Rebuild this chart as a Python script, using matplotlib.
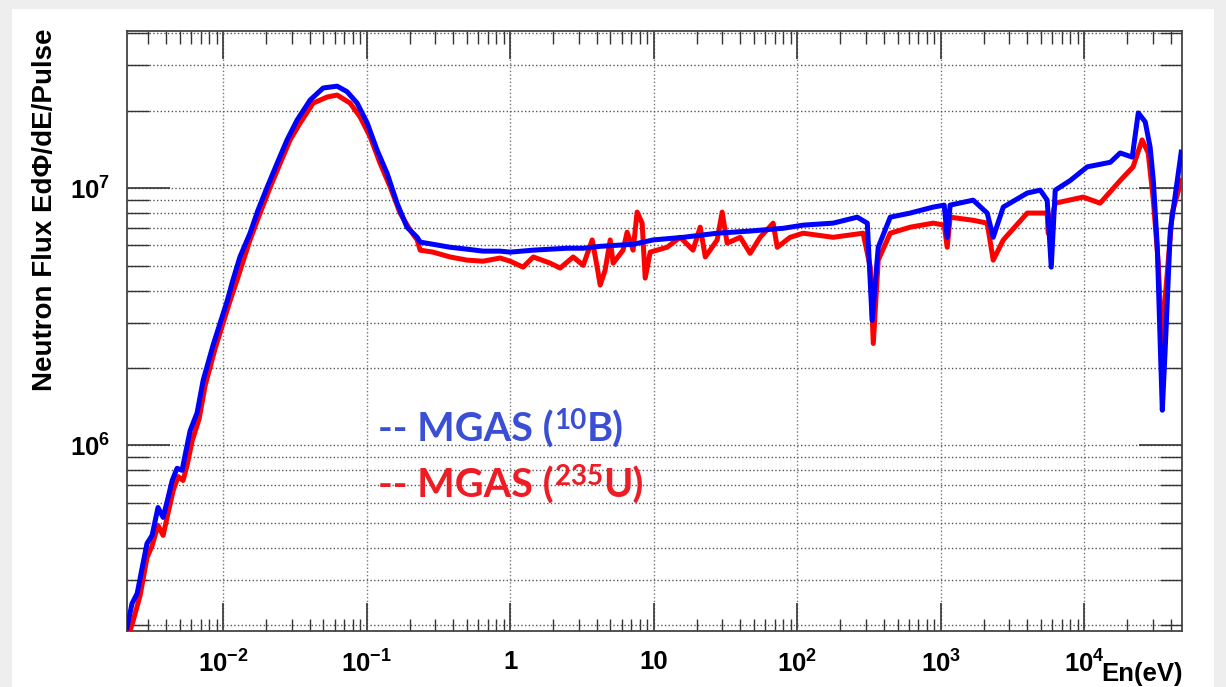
import numpy as np
import matplotlib.pyplot as plt
from matplotlib.ticker import FixedLocator, NullFormatter

plt.rcParams['font.family'] = ['Liberation Sans', 'DejaVu Sans']
plt.rcParams['mathtext.fontset'] = 'custom'
plt.rcParams['mathtext.rm'] = 'Liberation Sans:bold'
plt.rcParams['mathtext.bf'] = 'Liberation Sans:bold'
plt.rcParams['mathtext.it'] = 'Liberation Sans:bold'

# MGAS (10B) - energy (eV) and flux
e_b10 = [2.14e-3, 2.32e-3, 2.52e-3, 2.73e-3, 2.95e-3, 3.20e-3, 3.52e-3, 3.82e-3,
         4.14e-3, 4.42e-3, 4.78e-3, 5.18e-3, 5.43e-3, 5.89e-3, 6.59e-3, 7.26e-3,
         8.51e-3, 1.07e-2, 1.17e-2, 1.31e-2, 1.54e-2, 1.75e-2, 2.03e-2, 2.38e-2,
         2.79e-2, 3.28e-2, 4.04e-2, 4.98e-2, 6.23e-2, 7.31e-2, 8.59e-2, 0.101,
         0.118, 0.139, 0.163, 0.191, 0.225, 0.236, 0.290, 0.382, 0.501, 0.648,
         0.851, 1.0, 1.45, 1.90, 2.50, 3.23, 4.24, 7.19, 9.93, 16.1, 27.7, 47.0,
         79.8, 110, 178, 262, 308, 333, 367, 445, 613, 887, 1058, 1110, 1164,
         1683, 2108, 2322, 2729, 4010, 4940, 5520, 5890, 6280, 7980, 1.05e4,
         1.52e4, 1.78e4, 2.16e4, 2.38e4, 2.66e4, 2.88e4, 3.03e4, 3.23e4, 3.39e4,
         3.50e4, 3.67e4, 3.98e4, 4.45e4, 4.74e4]
f_b10 = [1.96e5, 2.43e5, 2.66e5, 3.35e5, 4.16e5, 4.47e5, 5.74e5, 5.25e5,
         6.28e5, 7.31e5, 8.15e5, 8.0e5, 9.14e5, 1.14e6, 1.34e6, 1.79e6,
         2.45e6, 3.66e6, 4.39e6, 5.40e6, 6.68e6, 8.21e6, 1.01e7, 1.25e7,
         1.54e7, 1.84e7, 2.20e7, 2.45e7, 2.49e7, 2.37e7, 2.14e7, 1.79e7,
         1.41e7, 1.14e7, 8.74e6, 7.05e6, 6.44e6, 6.17e6, 6.05e6, 5.89e6, 5.79e6, 5.69e6,
         5.69e6, 5.64e6, 5.74e6, 5.79e6, 5.84e6, 5.84e6, 5.94e6, 6.05e6, 6.29e6, 6.44e6, 6.68e6, 6.81e6,
         6.98e6, 7.18e6, 7.31e6, 7.71e6, 7.31e6, 3.06e6, 5.89e6, 7.71e6, 8.0e6, 8.44e6, 8.59e6, 6.44e6, 8.59e6,
         8.98e6, 8.0e6, 6.44e6, 8.44e6, 9.57e6, 9.82e6, 8.98e6, 4.93e6, 9.82e6, 1.07e7, 1.21e7,
         1.26e7, 1.37e7, 1.32e7, 1.96e7, 1.81e7, 1.44e7, 1.07e7, 5.89e6, 2.40e6,
         1.37e6, 2.40e6, 6.87e6, 1.07e7, 1.38e7]

# MGAS (235U)
e_u235 = [2.25e-3, 2.36e-3, 2.64e-3, 2.95e-3, 3.20e-3, 3.52e-3, 3.82e-3, 4.14e-3,
          4.49e-3, 4.86e-3, 5.26e-3, 5.61e-3, 6.08e-3, 6.81e-3, 7.50e-3, 8.80e-3,
          1.12e-2, 1.25e-2, 1.54e-2, 1.81e-2, 2.13e-2, 2.50e-2, 2.93e-2, 3.44e-2,
          4.24e-2, 5.31e-2, 6.23e-2, 7.67e-2, 9.01e-2, 0.106, 0.124, 0.146, 0.171,
          0.201, 0.225, 0.236, 0.290, 0.382, 0.501, 0.648, 0.851, 1.0, 1.23, 1.45,
          1.90, 2.23, 2.75, 3.23, 3.73, 4.04, 4.24, 4.59, 4.98, 5.22, 6.12, 6.53,
          7.19, 7.67, 8.31, 8.73, 9.46, 12.4, 15.3, 18.8, 21.1, 22.9, 27.7, 30.0,
          32.5, 40.1, 47.0, 55.2, 68.0, 72.6, 89.3, 110, 178, 288, 323, 339, 367,
          445, 613, 887, 1058, 1110, 1164, 1683, 2108, 2322, 2729, 4010, 5520, 5610,
          6280, 9840, 1.29e4, 1.78e4, 2.19e4, 2.53e4, 2.79e4, 3.03e4, 3.28e4,
          3.50e4, 3.67e4, 4.10e4, 4.74e4]
f_u235 = [1.91e5, 2.08e5, 2.61e5, 3.66e5, 4.08e5, 4.89e5, 4.47e5, 5.48e5,
          6.68e5, 7.57e5, 7.31e5, 8.36e5, 1.04e6, 1.27e6, 1.71e6, 2.38e6,
          3.66e6, 4.39e6, 6.29e6, 8.0e6, 1.01e7, 1.25e7, 1.54e7, 1.79e7,
          2.14e7, 2.26e7, 2.30e7, 2.14e7, 1.89e7, 1.58e7, 1.25e7, 1.01e7, 8.0e6,
          6.87e6, 6.29e6, 5.74e6, 5.64e6, 5.40e6, 5.25e6, 5.20e6, 5.35e6, 5.20e6, 4.93e6, 5.40e6,
          5.11e6, 4.89e6, 5.40e6, 5.01e6, 6.29e6, 4.93e6, 4.20e6, 4.80e6, 6.29e6, 5.11e6, 5.74e6, 6.74e6,
          5.74e6, 8.07e6, 7.31e6, 4.47e6, 5.64e6, 5.89e6, 6.44e6, 5.74e6, 7.05e6, 5.40e6, 6.29e6, 8.07e6,
          6.11e6, 6.44e6, 5.58e6, 6.44e6, 7.31e6, 5.89e6, 6.44e6, 6.68e6, 6.44e6, 6.68e6, 4.93e6, 2.49e6, 5.25e6,
          6.68e6, 7.05e6, 7.31e6, 7.18e6, 5.89e6, 7.71e6, 7.50e6, 7.31e6, 5.25e6, 6.29e6, 8.0e6, 8.0e6, 6.68e6,
          8.74e6, 9.23e6, 8.74e6, 1.07e7, 1.21e7, 1.54e7, 1.37e7, 8.98e6, 5.11e6,
          2.28e6, 3.77e6, 8.0e6, 1.07e7]

x_ticks = [1e-2, 1e-1, 1, 10, 1e2, 1e3, 1e4]
x_labels = [r'$\mathbf{10^{-2}}$', r'$\mathbf{10^{-1}}$', '1', '10',
            r'$\mathbf{10^{2}}$', r'$\mathbf{10^{3}}$', r'$\mathbf{10^{4}}$']
y_ticks = [1e6, 1e7]
y_labels = [r'$\mathbf{10^{6}}$', r'$\mathbf{10^{7}}$']

fig = plt.figure(figsize=(12.26, 6.87), dpi=100, facecolor='#eeeeee')
fig.patches.append(plt.Rectangle((12 / 1226, 0), 1202 / 1226, 1 - 9 / 687,
                                 transform=fig.transFigure, facecolor='white',
                                 edgecolor='none', zorder=-10))
ax = fig.add_axes([127 / 1226, 1 - 631 / 687, 1055 / 1226, 600 / 687])
ax.set_zorder(1)
ax.set_xscale('log')
ax.set_yscale('log')

ax.plot(e_u235, f_u235, color='#ff0000', lw=3.6, zorder=3)
ax.plot(e_b10, f_b10, color='#0000ff', lw=3.6, zorder=4)

ax.set_xlim(2.14e-3, 4.8e4)
ax.set_ylim(1.9e5, 4.08e7)

ax.xaxis.set_major_locator(FixedLocator(x_ticks))
ax.set_xticklabels(x_labels, fontsize=18.5, fontweight='bold')
ax.yaxis.set_major_locator(FixedLocator(y_ticks))
ax.set_yticklabels(y_labels, fontsize=18.5, fontweight='bold')
minors_x = [m * 10.0 ** d for d in range(-3, 5) for m in range(2, 10)]
minors_y = [m * 10.0 ** d for d in range(5, 8) for m in range(2, 10)]
ax.xaxis.set_minor_locator(FixedLocator(minors_x))
ax.yaxis.set_minor_locator(FixedLocator(minors_y))
ax.xaxis.set_minor_formatter(NullFormatter())
ax.yaxis.set_minor_formatter(NullFormatter())

ax.tick_params(which='both', direction='in', top=True, right=True, color='#333333')
ax.tick_params(axis='x', which='major', length=20, width=1.2, pad=14)
ax.tick_params(axis='x', which='minor', length=9, width=1)
ax.tick_params(axis='y', which='major', length=31, width=1.2, pad=12)
ax.tick_params(axis='y', which='minor', length=16, width=1)

ax.grid(which='major', axis='x', ls=':', color='#777777', lw=1)
ax.grid(which='both', axis='y', ls=':', color='#555555', lw=1)
for s in ax.spines.values():
    s.set_color('#444444')
    s.set_linewidth(1.3)

fig.text(45 / 1226, 1 - 210 / 687, 'Neutron Flux Ed\u03a6/dE/Pulse', rotation=90,
         ha='center', va='center', fontsize=20, fontweight='bold')
fig.text(1183 / 1226, 1 - 662 / 687, 'En(eV)', ha='right', va='top',
         fontsize=18.5, fontweight='bold')

# legend text
def legend_line(y, sup, tail, color):
    t1 = fig.text(378 / 1226, y, '-- MGAS (', color=color, fontsize=28.5,
                  fontweight='bold', family=['Lato', 'DejaVu Sans'], va='baseline', zorder=5)
    a2 = fig.add_artist(plt.Annotation(sup, xy=(1.005, 0.40), xycoords=(t1, t1), color=color,
                                       fontsize=20, fontweight='bold',
                                       family=['Lato', 'DejaVu Sans'], va='bottom', ha='left'))
    fig.add_artist(plt.Annotation(tail, xy=(1, 0), xycoords=(a2, t1), color=color, fontsize=28.5,
                                  fontweight='bold', family=['Lato', 'DejaVu Sans'],
                                  va='bottom', ha='left'))

legend_line(1 - 442 / 687, '10', 'B)', '#3b4fd4')
legend_line(1 - 498 / 687, '235', 'U)', '#ee1c25')

fig.savefig('out.png', dpi=100, facecolor=fig.get_facecolor())
